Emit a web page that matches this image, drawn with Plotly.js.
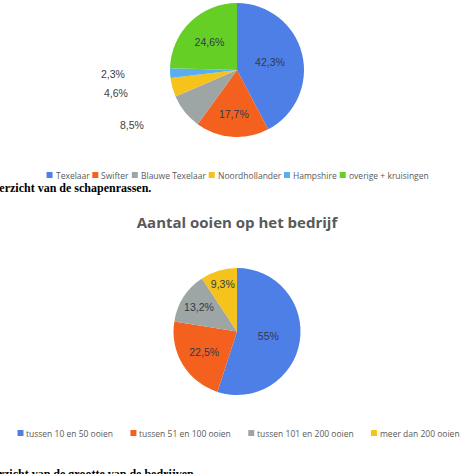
<!DOCTYPE html>
<html>
<head>
<meta charset="utf-8">
<script src="https://cdn.plot.ly/plotly-3.0.1.min.js"></script>
<style>
  html, body { margin: 0; padding: 0; background: #fff; }
  #chart { width: 474px; height: 474px; }
</style>
</head>
<body>
<div id="chart"></div>
<script>
// schapenrassen (bovenste taart)
var rassen = ['Texelaar', 'Swifter', 'Blauwe Texelaar', 'Noordhollander', 'Hampshire', 'overige + kruisingen'];
var rassenPct = [42.3, 17.7, 8.5, 4.6, 2.3, 24.6];
var rassenKleur = ['#4d7fe6', '#f4611f', '#9da6a4', '#f6c21c', '#5aaef0', '#66cf25'];

// aantal ooien (onderste taart)
var ooien = ['tussen 10 en 50 ooien', 'tussen 51 en 100 ooien', 'tussen 101 en 200 ooien', 'meer dan 200 ooien'];
var ooienPct = [55, 22.5, 13.2, 9.3];
var ooienKleur = ['#4d7fe6', '#f4611f', '#9da6a4', '#f6c21c'];

var W = 474, H = 474;
function px(x) { return x / W; }
function py(y) { return (H - y) / H; } // pixel van boven -> paper y

// tekst als 42,3%
function pctLabel(v) {
    return String(v).replace('.', ',') + '%';
}

// kleine stukken krijgen hun label buiten de taart (zoals in excel)
var KLEIN = 10;

var pie1Center = [237, 70], pie1R = 67;

var pie1 = {
    type: 'pie',
    labels: rassen,
    values: rassenPct,
    text: rassenPct.map(function (v) { return v < KLEIN ? '' : pctLabel(v); }),
    textinfo: 'text',
    textposition: 'inside',
    insidetextorientation: 'horizontal',
    insidetextfont: {family: 'Liberation Sans, Arial', size: 10.5, color: '#2e3a50'},
    marker: {colors: rassenKleur, line: {color: '#fff', width: 0}},
    sort: false,
    direction: 'clockwise',
    rotation: 0,
    showlegend: false,
    hoverinfo: 'label+text',
    domain: {x: [0, 1], y: [py(pie1Center[1] + pie1R), py(pie1Center[1] - pie1R)]}
};

var pie2 = {
    type: 'pie',
    labels: ooien,
    values: ooienPct,
    text: ooienPct.map(pctLabel),
    textinfo: 'text',
    textposition: 'inside',
    insidetextorientation: 'horizontal',
    insidetextfont: {family: 'Liberation Sans, Arial', size: 10.5, color: '#2e3a50'},
    marker: {colors: ooienKleur, line: {color: '#fff', width: 0}},
    sort: false,
    direction: 'clockwise',
    rotation: 0,
    showlegend: false,
    hoverinfo: 'label+text',
    domain: {x: [0, 1], y: [py(395), py(268)]}
};

var annotations = [];
var shapes = [];

// labels buiten de taart voor de kleine stukken
var cum = 0;
var tot = rassenPct.reduce(function (a, b) { return a + b; }, 0);
for (var i = 0; i < rassenPct.length; i++) {
    var mid = (cum + rassenPct[i] / 2) / tot * 2 * Math.PI;
    cum += rassenPct[i];
    if (rassenPct[i] >= KLEIN) continue;
    var r = pie1R * 1.32;
    var lx = pie1Center[0] + Math.sin(mid) * r - 22;
    var ly = pie1Center[1] - Math.cos(mid) * r;
    annotations.push({
        text: pctLabel(rassenPct[i]),
        xref: 'paper', yref: 'paper',
        x: px(lx), xanchor: 'right',
        y: py(ly), yanchor: 'middle',
        showarrow: false,
        font: {family: 'Liberation Sans, Arial', size: 10.5, color: '#404040'}
    });
}

// legenda zelf tekenen: klein vierkantje + tekst, gecentreerd
var ctx = document.createElement('canvas').getContext('2d');
function legend(labels, colors, yc, size, gap, center) {
    ctx.font = size + 'px "Open Sans"';
    var sq = 6, pad = 2;
    var widths = labels.map(function (l) { return ctx.measureText(l).width; });
    var total = 0;
    for (var k = 0; k < labels.length; k++) total += sq + pad + widths[k];
    total += gap * (labels.length - 1);
    var x = center - total / 2;
    for (var k = 0; k < labels.length; k++) {
        shapes.push({
            type: 'rect', xref: 'paper', yref: 'paper',
            x0: px(x), x1: px(x + sq),
            y0: py(yc + sq / 2), y1: py(yc - sq / 2),
            fillcolor: colors[k], line: {width: 0}
        });
        annotations.push({
            text: labels[k],
            xref: 'paper', yref: 'paper',
            x: px(x + sq + pad), xanchor: 'left',
            y: py(yc), yanchor: 'middle',
            showarrow: false, borderpad: 0,
            font: {family: 'Open Sans', size: size, color: '#595959'}
        });
        x += sq + pad + widths[k] + gap;
    }
}
legend(rassen, rassenKleur, 175, 8.5, 4, 237);
legend(ooien, ooienKleur, 433, 8.5, 18, 238);

annotations.push({
    text: '<b>Overzicht van de schapenrassen.</b>',
    xref: 'paper', yref: 'paper',
    x: px(153), xanchor: 'right',
    y: py(188), yanchor: 'middle',
    showarrow: false,
    font: {family: 'Liberation Serif', size: 12, color: '#000'}
});
annotations.push({
    text: '<b>Overzicht van de grootte van de bedrijven.</b>',
    xref: 'paper', yref: 'paper',
    x: 0, xanchor: 'left', xshift: -24,
    y: py(474), yanchor: 'middle',
    showarrow: false,
    font: {family: 'Liberation Serif', size: 12, color: '#000'}
});

var layout = {
    width: W,
    height: H,
    margin: {l: 0, r: 0, t: 0, b: 0},
    paper_bgcolor: '#fff',
    showlegend: false,
    title: {
        text: '<b>Aantal ooien op het bedrijf</b>',
        font: {family: 'Open Sans', size: 15, color: '#595959'},
        x: 0.5, xanchor: 'center',
        y: py(223), yanchor: 'middle',
        xref: 'paper', yref: 'paper'
    },
    shapes: shapes,
    annotations: annotations
};

Plotly.newPlot('chart', [pie1, pie2], layout, {displayModeBar: false, staticPlot: true});
</script>
</body>
</html>
